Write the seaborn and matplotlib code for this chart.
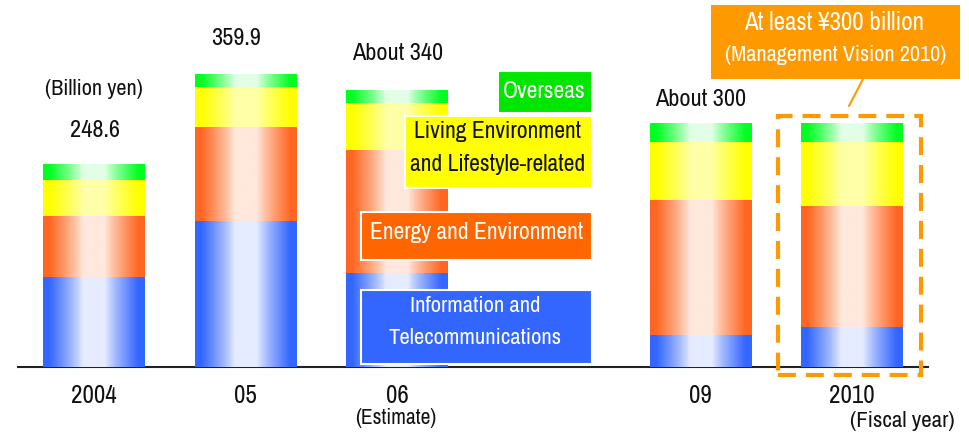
import numpy as np
import pandas as pd
import matplotlib
matplotlib.use("Agg")
import matplotlib.pyplot as plt
import seaborn as sns
from matplotlib.patches import Rectangle
from matplotlib.lines import Line2D
from matplotlib.colors import to_rgb

# ---- data (billion yen) ----
years = ["2004", "05", "06", "09", "2010"]
info_telecom = [109.9, 179.0, 114.5, 38.5, 48.5]
energy_env = [75.9, 115.5, 152.5, 167.0, 149.5]
living_life = [44.3, 49.3, 57.0, 71.0, 78.5]
overseas = [18.5, 16.1, 16.0, 23.5, 23.5]
total_labels = ["248.6", "359.9", "About 340", "About 300", ""]
segment_names = ["Information and\nTelecommunications", "Energy and Environment",
                 "Living Environment\nand Lifestyle-related", "Overseas"]

# category order with an empty slot between 06 and 09
order = ["2004", "05", "06", "gap", "09", "2010"]
tick_labels = ["2004", "05", "06", "", "09", "2010"]

sns.set_theme(style="white")
FONT = ["Archivo Narrow", "Liberation Sans", "DejaVu Sans"]
plt.rcParams["font.family"] = FONT

W, H = 970, 434
fig = plt.figure(figsize=(W / 100, H / 100), dpi=100)
ax = fig.add_axes([18 / W, 67 / H, 910 / W, 367 / H])

layers = [info_telecom, energy_env, living_life, overseas]
edge_cols = ["#3366FF", "#FF6622", "#FFFF00", "#00FF22"]
center_cols = ["#E6ECFF", "#FFE8DC", "#FFFFA8", "#E2FFE6"]


def gradient_strip(edge, center, n=256):
    u = np.linspace(-0.5, 0.5, n)
    w = np.clip((np.abs(u) - 0.11) / 0.33, 0, 1) ** 0.85
    e = np.array(to_rgb(edge))
    c = np.array(to_rgb(center))
    rgb = c[None, :] + (e - c)[None, :] * w[:, None]
    return rgb[None, :, :]


# stacked bars: draw cumulative heights from the top layer down
cum = np.cumsum(np.array(layers), axis=0)
z = 2
for i in range(len(layers) - 1, -1, -1):
    df = pd.DataFrame({"year": years, "value": cum[i]})
    n_before = len(ax.patches)
    sns.barplot(data=df, x="year", y="value", order=order, width=0.67,
                color=edge_cols[i], saturation=1, errorbar=None, ax=ax)
    grad = gradient_strip(edge_cols[i], center_cols[i])
    for p in ax.patches[n_before:]:
        h = p.get_height()
        if not np.isfinite(h) or h <= 0:
            continue
        x0, w = p.get_x(), p.get_width()
        p.set_visible(False)
        ax.imshow(grad, extent=[x0, x0 + w, 0, h], aspect="auto",
                  interpolation="bilinear", zorder=z)
        z += 1

ax.set_xlim(-0.5, 5.5)
ax.set_ylim(0, 367 / 0.8126)
ax.set_xticks(range(len(order)))
ax.set_xticklabels(tick_labels, fontsize=18, color="#111111")
ax.tick_params(axis="x", length=0, pad=12)
ax.set_yticks([])
ax.set_xlabel("")
ax.set_ylabel("")
for s in ["left", "top", "right"]:
    ax.spines[s].set_visible(False)
ax.spines["bottom"].set_color("#222222")
ax.spines["bottom"].set_linewidth(1.5)
ax.patch.set_alpha(0)

# value labels above bars
label_pos = [0, 1, 2, 4, 5]
label_dx = [1, -9, 0, 0, 0]      # pixel shift
label_dy = [34, 36, 37, 24, 0]   # pixel gap above bar top
for k, txt in enumerate(total_labels):
    if not txt:
        continue
    ax.annotate(txt, xy=(label_pos[k], cum[-1][k]),
                xytext=(label_dx[k] * 0.72, label_dy[k] * 0.72),
                textcoords="offset points", ha="center", va="center",
                fontsize=17.5, color="#111111", zorder=20)


def fx(x):
    return x / W


def fy(y):
    return 1 - y / H


def fbox(x0, y0, x1, y1, color, edge="white", lw=1.5, **kw):
    fig.add_artist(Rectangle((fx(x0), fy(y1)), fx(x1) - fx(x0), fy(y0) - fy(y1),
                             transform=fig.transFigure, facecolor=color,
                             edgecolor=edge, linewidth=lw, zorder=5, **kw))


def ftext(x, y, s, size, color="#111111", **kw):
    fig.text(fx(x), fy(y), s, ha="center", va="center", fontsize=size,
             color=color, zorder=6, **kw)


ftext(93.5, 89, "(Billion yen)", 16)
ftext(396, 418, "(Estimate)", 15.5)
ftext(902, 421, "(Fiscal year)", 16.5)

# segment legend boxes
fbox(497.7, 70.7, 591.7, 113.3, "#00E600")
ftext(544.7, 92, segment_names[3], 17, color="white")
fbox(405, 116, 591.7, 187.7, "#FFFF00")
ftext(498, 148, segment_names[2], 17, color="#111111", linespacing=1.65)
fbox(360.7, 212.3, 591.7, 260, "#FF6600")
ftext(476.5, 232.5, segment_names[1], 17, color="white")
fbox(360.7, 290, 591.7, 364.3, "#3366FF")
ftext(475.5, 321.5, segment_names[0], 16.3, color="white", linespacing=1.75)

# target callout for fiscal 2010
fbox(711, 5, 960, 79, "#FF9900", edge="none", lw=0)
ftext(834, 22, "At least \u00a5300 billion", 18, color="white")
ftext(835.5, 55, "(Management Vision 2010)", 16, color="white")
fig.add_artist(Line2D([fx(863), fx(849)], [fy(79), fy(106)],
                      transform=fig.transFigure, color="#FF9900", lw=1.5, zorder=5))
fig.add_artist(Rectangle((fx(778), fy(375)), fx(921) - fx(778), fy(116) - fy(375),
                         transform=fig.transFigure, facecolor="none",
                         edgecolor="#FF9900", linewidth=3,
                         linestyle=(0, (4.3, 2.4)), zorder=7))

fig.savefig("out.png", dpi=100)
